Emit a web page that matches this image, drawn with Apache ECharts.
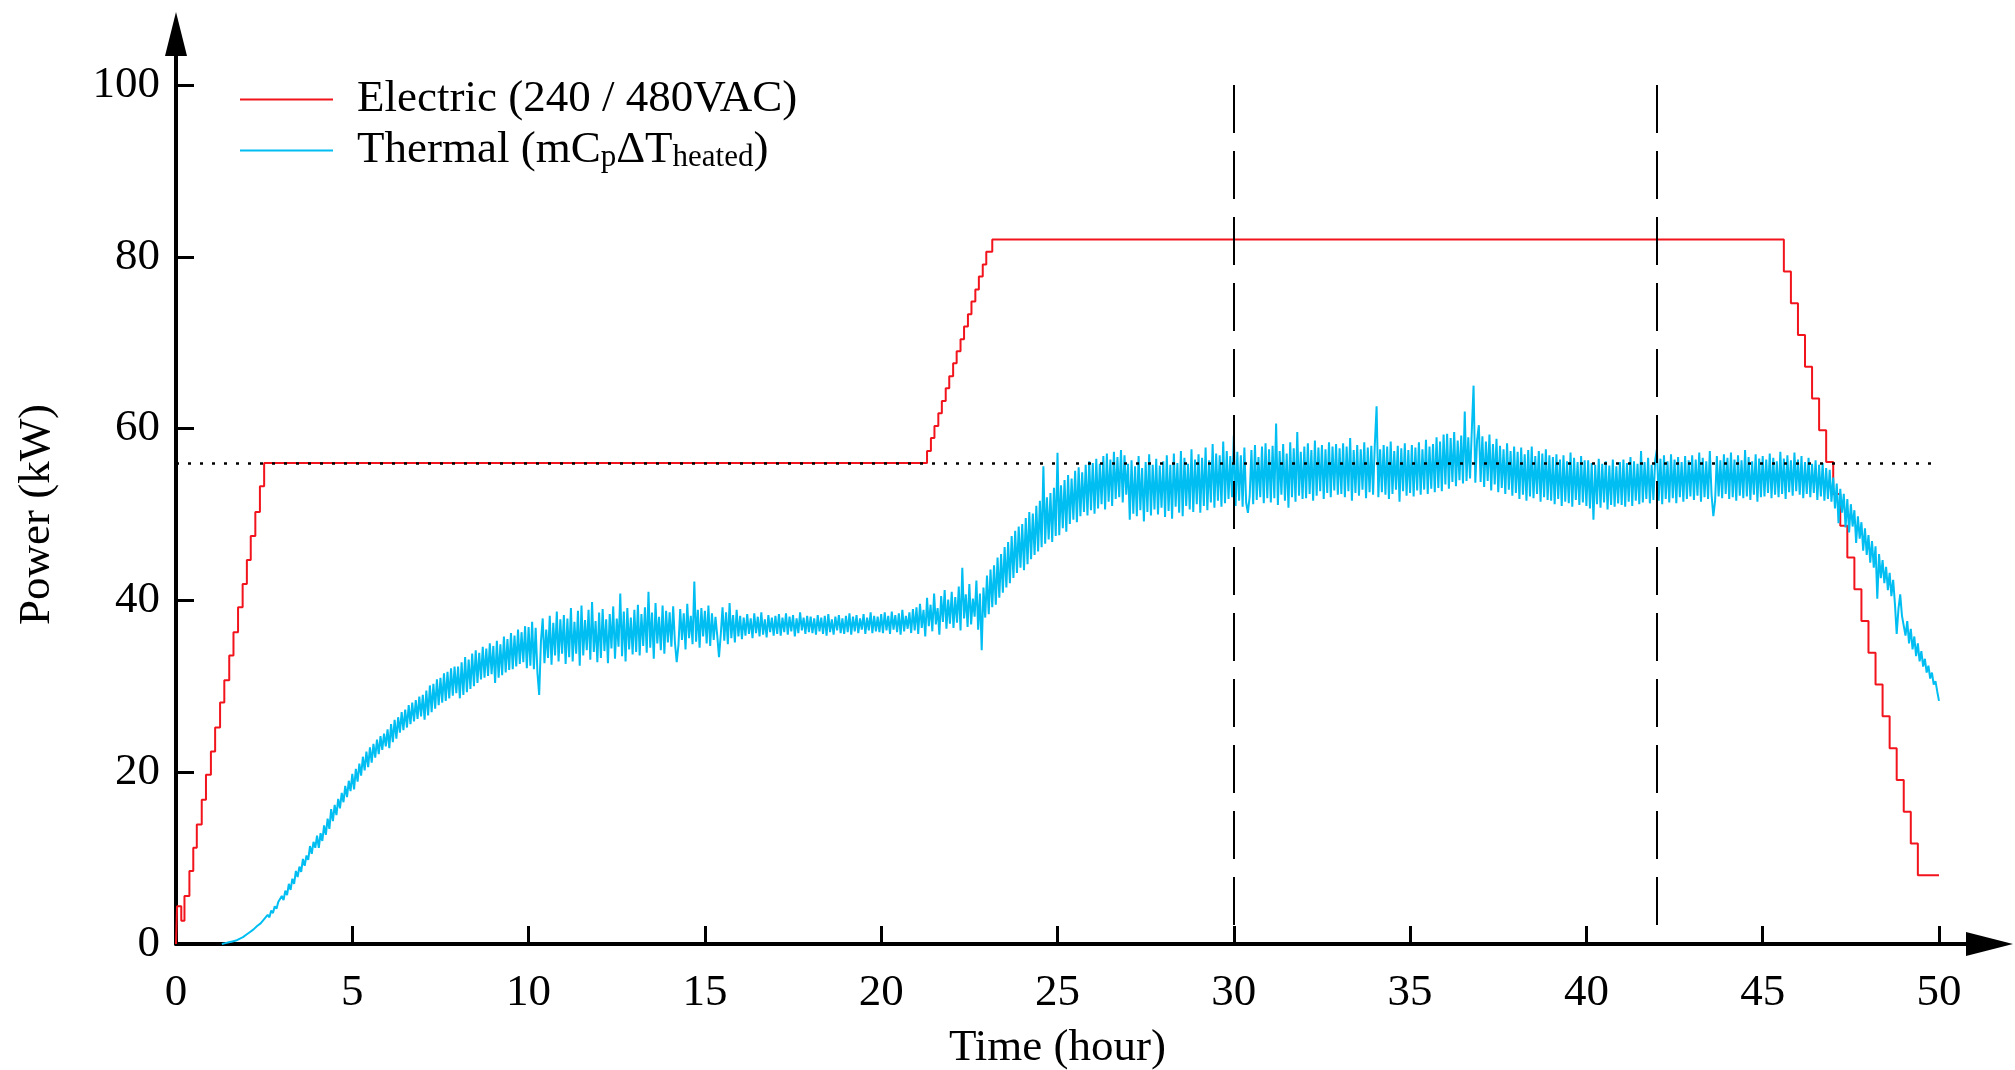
<!DOCTYPE html>
<html>
<head>
<meta charset="utf-8">
<script src="https://cdn.jsdelivr.net/npm/echarts@6/dist/echarts.min.js"></script>
<style>
html,body{margin:0;padding:0;background:#fff;}
#chart{width:2015px;height:1070px;}
</style>
</head>
<body>
<div id="chart"></div>
<script>
// ---- Data ----
const xTicks = [0, 5, 10, 15, 20, 25, 30, 35, 40, 45, 50];
const yTicks = [0, 20, 40, 60, 80, 100];

const electricName = 'Electric (240 / 480VAC)';
const thermalName = 'Thermal (mCpΔTheated)';

// Electric power: time at which each level begins (hour) and the level (kW)
const elecTime = [
  0, 0.03, 0.15, 0.24, 0.38, 0.49, 0.59, 0.73, 0.85, 0.99, 1.11, 1.25, 1.37, 1.51, 1.63, 1.76, 1.89, 2.01, 2.12, 2.25, 2.38, 2.5,
  21.30, 21.41, 21.51, 21.62, 21.72, 21.83, 21.93, 22.04, 22.14, 22.25, 22.35, 22.46, 22.56, 22.67, 22.77, 22.88, 22.98, 23.15,
  45.6, 45.8, 46.0, 46.2, 46.4, 46.6, 46.8, 47.0, 47.2, 47.4, 47.6, 47.8, 48.0, 48.2, 48.4, 48.6, 48.8, 49.0, 49.2, 49.4, 50.0
];
const elecPower = [
  0, 4.4, 2.7, 5.6, 8.5, 11.2, 13.9, 16.8, 19.7, 22.4, 25.2, 28.1, 30.7, 33.6, 36.3, 39.2, 41.9, 44.7, 47.5, 50.3, 53.3, 56.0,
  57.4, 58.9, 60.3, 61.8, 63.2, 64.7, 66.1, 67.6, 69.0, 70.4, 71.9, 73.3, 74.8, 76.2, 77.7, 79.1, 80.6, 82.0,
  78.3, 74.6, 70.9, 67.2, 63.5, 59.8, 56.1, 52.4, 48.7, 45.0, 41.3, 37.6, 33.9, 30.2, 26.5, 22.8, 19.1, 15.4, 11.7, 8.0, 8.0
];

// Thermal power (kW), sampled every 0.05 h starting at 1.3 h
const thermalStart = 1.3;
const thermalStep = 0.05;
const thermalPower = [
  0.0, 0.0, 0.1, 0.1, 0.2, 0.2, 0.3, 0.4, 0.4, 0.5, 0.6, 0.7, 0.8, 0.9,
  1.1, 1.0, 1.4, 1.3, 1.7, 1.6, 2.1, 1.9, 2.4, 2.3, 2.9, 2.7, 3.4, 3.1, 3.9, 3.6, 4.4, 4.1, 4.9, 4.7,
  5.6, 5.1, 6.2, 5.7, 7.0, 6.3, 7.6, 7.0, 8.5, 7.8, 9.0, 8.4, 9.9, 9.1, 10.3, 9.8, 11.4, 10.5, 11.9, 11.2,
  12.6, 11.2, 12.9, 12.0, 13.8, 12.7, 14.6, 13.4, 15.7, 14.3, 16.2, 15.0, 16.9, 15.8, 17.6, 16.5, 18.4, 17.1, 19.0, 17.8,
  19.8, 18.0, 20.4, 18.9, 21.0, 19.6, 21.8, 20.2, 22.4, 20.6, 22.9, 21.1, 23.3, 21.7, 23.8, 22.1, 24.2, 22.6, 24.5, 23.0,
  25.0, 22.8, 25.6, 23.5, 26.1, 23.9, 26.4, 24.6, 27.0, 24.9, 27.3, 25.2, 27.8, 25.6, 28.1, 25.9, 28.4, 26.2, 28.8, 26.5,
  29.0, 26.1, 29.5, 26.6, 30.1, 27.0, 30.3, 27.4, 30.8, 27.8, 31.0, 28.1, 31.5, 28.3, 31.7, 28.6, 32.1, 28.9, 32.3, 29.2,
  32.3, 28.6, 32.8, 29.0, 33.4, 29.3, 33.1, 29.7, 33.8, 30.0, 34.2, 30.4, 33.9, 30.8, 34.6, 31.0, 34.4, 31.2, 35.0, 31.4,
  34.7, 30.4, 35.3, 31.0, 34.9, 31.3, 35.8, 31.6, 35.5, 31.9, 36.2, 32.0, 35.9, 32.3, 36.6, 32.6, 36.3, 32.8, 37.0, 32.1,
  36.9, 32.4, 37.5, 32.0, 36.8, 31.6, 29.0, 35.2, 37.9, 32.7, 36.6, 33.3, 38.2, 32.5, 37.4, 33.6, 38.7, 32.9, 37.8, 33.8,
  38.3, 32.6, 37.9, 33.4, 39.1, 32.9, 37.5, 33.8, 38.8, 32.4, 39.4, 33.6, 37.7, 34.2, 38.9, 33.1, 39.8, 34.0, 37.6, 32.8,
  38.6, 33.3, 39.0, 34.1, 37.8, 32.7, 38.4, 34.4, 39.3, 33.2, 37.9, 34.6, 40.8, 33.5, 38.7, 32.9, 39.1, 34.3, 38.0, 33.7,
  38.9, 34.0, 39.5, 33.6, 38.4, 34.7, 39.2, 33.9, 41.0, 34.5, 38.6, 33.2, 39.7, 35.0, 38.1, 34.2, 39.4, 33.8, 38.8, 35.1,
  38.6, 34.6, 39.3, 35.1, 32.8, 34.8, 39.0, 35.4, 38.5, 34.3, 39.6, 35.6, 38.2, 34.9, 42.2, 35.2, 38.9, 34.5, 39.1, 35.8,
  38.8, 35.0, 39.4, 34.7, 38.5, 35.4, 38.1, 35.9, 33.4, 36.0, 39.2, 35.3, 38.6, 34.9, 39.7, 35.6, 38.3, 35.1, 38.9, 35.8,
  38.2, 35.5, 38.0, 35.9, 38.4, 36.1, 37.9, 35.6, 38.5, 36.2, 38.1, 35.8, 38.6, 36.0, 37.8, 35.7, 38.3, 36.3, 38.0, 35.9,
  38.2, 36.1, 38.4, 35.9, 38.0, 36.3, 38.5, 36.0, 38.1, 36.4, 38.3, 35.8, 37.9, 36.2, 38.6, 36.5, 38.0, 36.1, 38.2, 36.3,
  38.1, 36.2, 37.9, 36.0, 38.3, 36.4, 38.0, 36.1, 38.2, 35.9, 38.4, 36.3, 37.8, 36.0, 38.1, 36.5, 38.3, 36.2, 37.9, 36.1,
  38.2, 36.3, 38.5, 36.0, 38.1, 36.4, 38.3, 36.2, 37.9, 36.6, 38.4, 36.1, 38.0, 36.5, 38.6, 36.2, 38.2, 36.4, 38.1, 36.3,
  38.4, 36.2, 38.6, 36.5, 38.2, 36.1, 38.7, 36.6, 38.3, 36.3, 38.5, 36.0, 38.9, 36.4, 38.2, 36.7, 38.6, 36.2, 39.0, 36.5,
  39.2, 36.1, 39.6, 36.8, 38.9, 35.8, 40.3, 37.0, 39.5, 36.4, 40.8, 37.2, 39.1, 36.0, 40.5, 37.5, 41.2, 36.7, 40.1, 37.3,
  41.0, 36.8, 40.4, 37.4, 41.6, 36.5, 43.8, 37.9, 40.7, 36.9, 41.9, 37.2, 40.2, 38.1, 42.3, 36.6, 40.8, 34.2, 41.5, 38.0,
  42.9, 38.4, 43.6, 39.2, 44.1, 39.5, 45.0, 40.3, 45.4, 40.9, 46.2, 41.5, 46.8, 42.0, 47.5, 42.6, 48.1, 43.2, 48.6, 43.8,
  48.9, 43.5, 49.6, 44.2, 50.3, 44.8, 50.1, 45.3, 51.0, 45.7, 51.6, 46.2, 55.6, 46.6, 52.0, 47.1, 52.5, 46.8, 53.1, 47.5,
  57.2, 47.6, 53.4, 48.4, 54.0, 48.0, 54.6, 48.9, 54.2, 49.4, 55.1, 49.1, 55.5, 49.8, 54.9, 50.3, 55.8, 49.9, 56.2, 50.5,
  56.0, 50.1, 56.5, 50.7, 55.9, 51.2, 56.8, 50.6, 57.1, 51.5, 56.4, 51.0, 57.3, 51.8, 56.7, 52.0, 57.5, 51.4, 56.9, 52.3,
  55.9, 49.4, 56.3, 50.1, 55.6, 49.8, 56.8, 50.5, 55.4, 49.2, 56.1, 50.3, 57.0, 49.9, 55.8, 50.6, 56.5, 50.0, 55.7, 50.8,
  56.2, 49.7, 56.9, 50.4, 55.8, 49.5, 57.1, 50.9, 56.0, 50.2, 57.4, 49.8, 56.6, 51.0, 55.9, 50.6, 57.6, 50.3, 56.4, 51.2,
  57.0, 50.2, 56.6, 51.0, 57.8, 50.5, 56.3, 51.4, 58.2, 50.8, 57.1, 51.6, 56.9, 50.9, 58.5, 51.3, 57.4, 51.8, 56.8, 52.0,
  59.2, 51.0, 57.3, 51.6, 56.9, 50.9, 57.8, 51.4, 50.2, 52.1, 57.5, 51.2, 58.1, 51.7, 56.7, 52.0, 57.9, 51.3, 58.3, 51.9,
  57.6, 51.4, 58.0, 51.9, 60.6, 51.1, 57.4, 52.3, 58.2, 51.6, 57.1, 50.8, 58.4, 52.0, 57.7, 51.5, 59.6, 52.2, 57.3, 51.8,
  57.9, 51.9, 58.3, 52.4, 57.5, 51.6, 58.6, 52.2, 57.8, 52.7, 58.1, 51.8, 57.6, 52.5, 58.4, 52.0, 57.9, 52.8, 58.2, 52.3,
  57.7, 52.4, 58.3, 52.0, 57.9, 52.7, 58.9, 51.6, 57.5, 52.5, 58.1, 52.2, 57.6, 52.9, 58.4, 51.9, 57.8, 52.6, 58.0, 52.3,
  58.2, 62.6, 52.0, 57.6, 52.6, 58.1, 52.3, 57.9, 51.8, 58.5, 52.4, 57.4, 52.9, 58.0, 51.5, 57.7, 52.7, 58.3, 52.2, 57.5,
  52.5, 58.1, 52.1, 57.8, 52.8, 58.4, 52.3, 57.6, 52.9, 58.7, 52.4, 57.9, 53.0, 58.2, 52.6, 59.0, 53.1, 58.5, 52.7, 59.3,
  53.5, 59.4, 53.0, 58.9, 53.8, 59.6, 53.3, 58.6, 54.0, 59.2, 53.6, 62.0, 53.9, 59.0, 54.2, 59.8, 65.0, 53.7, 58.7, 60.4,
  53.8, 59.1, 53.2, 58.5, 53.9, 59.3, 52.8, 58.2, 53.5, 58.8, 52.6, 58.0, 53.1, 57.6, 52.4, 58.3, 52.9, 57.4, 52.2, 57.9,
  52.5, 57.3, 51.8, 57.8, 52.3, 57.0, 51.6, 57.5, 52.1, 57.9, 51.9, 56.8, 52.4, 57.4, 51.5, 57.1, 52.0, 57.6, 51.7, 56.9,
  51.6, 56.7, 51.2, 57.0, 51.8, 56.4, 51.0, 56.9, 51.5, 56.2, 51.3, 57.2, 50.9, 56.6, 51.7, 56.1, 51.1, 56.8, 51.4, 56.3,
  51.0, 56.3, 50.7, 56.0, 49.4, 55.8, 51.2, 56.5, 50.8, 55.9, 51.4, 56.2, 50.6, 55.7, 51.1, 56.4, 50.9, 55.6, 51.3, 56.1,
  51.1, 56.4, 50.9, 56.0, 51.5, 56.7, 51.0, 56.2, 51.6, 55.9, 51.2, 57.4, 51.4, 56.1, 51.8, 56.6, 51.3, 55.8, 51.7, 56.3,
  57.6, 51.6, 56.5, 51.2, 56.9, 51.8, 56.2, 51.4, 57.0, 51.9, 56.4, 51.3, 56.7, 52.0, 56.1, 51.5, 56.8, 51.8, 56.3, 52.1,
  56.9, 51.7, 56.4, 52.2, 57.2, 51.5, 56.6, 52.0, 56.2, 51.8, 57.4, 52.3, 49.8, 51.6, 56.8, 52.1, 56.3, 51.9, 57.0, 52.4,
  56.6, 51.8, 57.2, 52.0, 56.4, 51.6, 56.9, 52.2, 56.3, 51.9, 57.5, 52.1, 56.7, 51.7, 56.2, 52.3, 57.0, 51.5, 56.5, 52.0,
  56.8, 52.1, 56.4, 52.5, 57.1, 51.9, 56.6, 52.3, 56.2, 52.0, 57.3, 52.4, 56.5, 51.8, 56.9, 52.6, 56.3, 52.2, 57.2, 52.7,
  56.4, 52.3, 56.8, 51.9, 56.1, 52.4, 56.6, 52.0, 55.9, 52.5, 56.3, 51.7, 55.8, 52.1, 56.0, 51.6, 55.4, 51.8, 55.2, 51.5,
  54.3, 50.7, 53.6, 49.0, 53.0, 50.2, 52.4, 48.5, 51.8, 47.9, 51.2, 48.6, 50.5, 46.7, 49.8, 47.2, 49.1, 45.8, 48.4, 45.3,
  47.6, 44.4, 46.9, 43.8, 46.3, 40.2, 45.4, 42.6, 44.7, 42.0, 43.9, 41.2, 43.2, 40.5, 42.4, 39.6, 36.1, 39.0, 40.7, 38.2,
  38.4, 35.9, 37.6, 35.0, 36.7, 34.3, 35.8, 33.5, 35.0, 32.9, 34.1, 32.3, 33.2, 31.6, 32.4, 30.9, 31.6, 30.2, 30.6, 29.4,
  28.3
];

// Reference lines
const dashedTimes = [30, 42];
const ratedLevel = 56;

// ---- Chart ----
const FONT = 'Liberation Serif';
const FS = 45;
const elecData = elecTime.map((t, i) => [t, elecPower[i]]);
const thermalData = thermalPower.map((v, i) => [+(thermalStart + i * thermalStep).toFixed(2), v]);

const chart = echarts.init(document.getElementById('chart'), null, {renderer: 'canvas'});

const axisCommon = {
  type: 'value',
  axisLine: {show: true, lineStyle: {color: '#000', width: 4}},
  axisTick: {show: true, inside: true, length: 18, lineStyle: {color: '#000', width: 3}},
  splitLine: {show: false},
  axisLabel: {color: '#000', fontFamily: FONT, fontSize: FS},
  nameTextStyle: {color: '#000', fontFamily: FONT, fontSize: FS}
};

chart.setOption({
  animation: false,
  backgroundColor: '#fff',
  grid: {left: 176, right: 76, top: 85, bottom: 126, containLabel: false, outerBoundsMode: 'none'},
  legend: {
    orient: 'vertical',
    left: 235,
    top: 72,
    itemWidth: 93,
    itemHeight: 14,
    itemGap: 6,
    icon: 'path://M0,6 L100,6 L100,8 L0,8 Z',
    data: [electricName, thermalName],
    formatter: function (name) {
      if (name === thermalName) return 'Thermal (mC{sub|p}ΔT{sub|heated})';
      return name;
    },
    textStyle: {
      color: '#000', fontFamily: FONT, fontSize: FS, padding: [0, 0, 0, 19],
      rich: {sub: {fontFamily: FONT, fontSize: 31, verticalAlign: 'bottom', padding: [15, 0, 0, 0]}}
    }
  },
  xAxis: Object.assign({}, axisCommon, {
    min: 0, max: 50, interval: 5,
    name: 'Time (hour)', nameLocation: 'middle', nameGap: 82,
    axisLabel: Object.assign({}, axisCommon.axisLabel, {margin: 27})
  }),
  yAxis: Object.assign({}, axisCommon, {
    min: 0, max: 100, interval: 20,
    name: 'Power (kW)', nameLocation: 'middle', nameGap: 116, nameRotate: 90,
    axisLabel: Object.assign({}, axisCommon.axisLabel, {margin: 16})
  }),
  series: [
    {
      name: electricName,
      type: 'line',
      step: 'end',
      data: elecData,
      showSymbol: false,
      symbol: 'none',
      color: '#f2141c',
      lineStyle: {color: '#f2141c', width: 2},
      z: 2,
      markLine: {
        silent: true,
        symbol: ['none', 'none'],
        label: {show: false},
        data: dashedTimes.map(t => [
          {coord: [t, 100], lineStyle: {color: '#000', width: 2, type: [48, 18]}},
          {coord: [t, 0]}
        ]).concat([{yAxis: ratedLevel, lineStyle: {color: '#000', width: 2.5, type: [3, 9]}}])
      }
    },
    {
      name: thermalName,
      type: 'line',
      data: thermalData,
      showSymbol: false,
      symbol: 'none',
      sampling: null,
      color: '#00bef2',
      lineStyle: {color: '#00bef2', width: 2},
      z: 3
    }
  ]
});

// Axis arrows (decoration of the axes, positioned from the axis scales)
function drawArrows() {
  const origin = chart.convertToPixel({gridIndex: 0}, [0, 0]);
  const xEnd = chart.convertToPixel({xAxisIndex: 0}, 50);
  const yEnd = chart.convertToPixel({yAxisIndex: 0}, 100);
  const ox = origin[0], oy = origin[1];
  chart.setOption({
    graphic: [
      {type: 'line', shape: {x1: ox, y1: yEnd, x2: ox, y2: 45}, style: {stroke: '#000', lineWidth: 4}, z: 10},
      {type: 'polygon', shape: {points: [[ox, 12], [ox - 11, 56], [ox + 11, 56]]}, style: {fill: '#000'}, z: 10},
      {type: 'line', shape: {x1: xEnd, y1: oy, x2: 1975, y2: oy}, style: {stroke: '#000', lineWidth: 4}, z: 10},
      {type: 'polygon', shape: {points: [[2013, oy], [1966, oy - 12], [1966, oy + 12]]}, style: {fill: '#000'}, z: 10}
    ]
  });
}
drawArrows();
</script>
</body>
</html>
